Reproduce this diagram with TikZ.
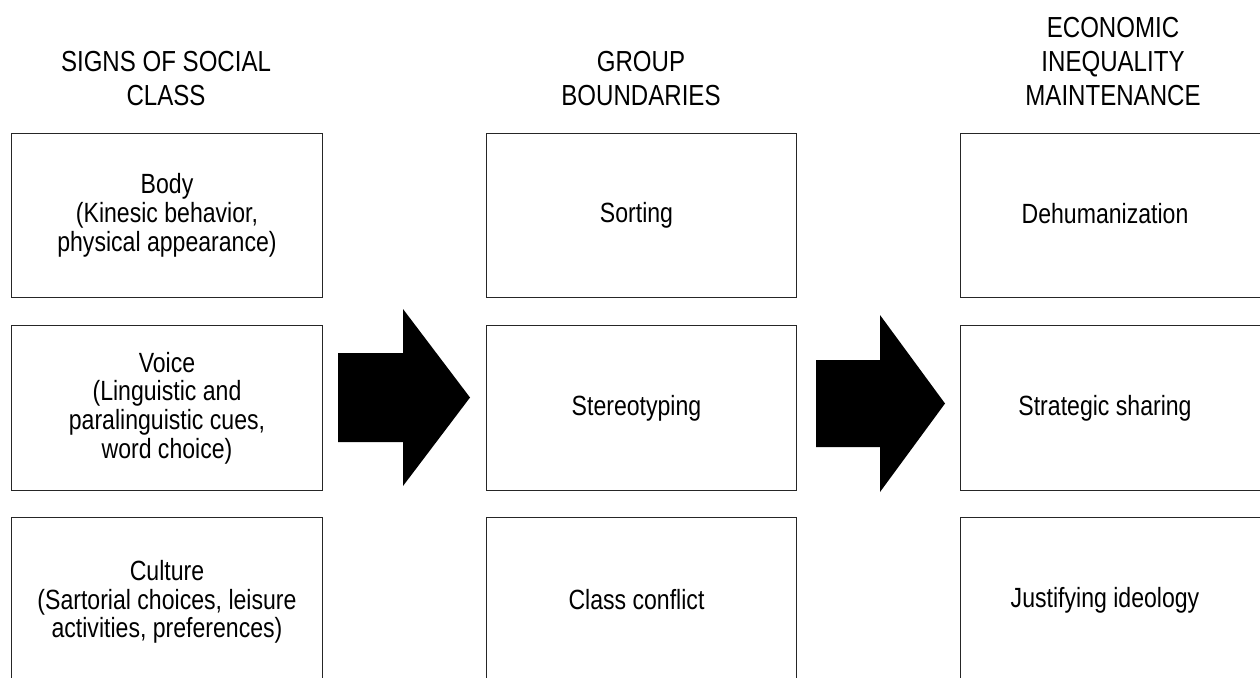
\documentclass[tikz,border=0pt]{standalone}
\usepackage{fontspec}
\setmainfont{Liberation Sans}[FakeStretch=0.83]
\begin{document}
\begin{tikzpicture}[x=1pt,y=-1pt,
  box/.style={draw=black!85,line width=1pt,minimum width=311pt,minimum height=165pt,inner sep=0pt,anchor=north west},
  head/.style={font=\fontsize{29}{34}\selectfont,align=center,inner sep=0pt},
  lbl/.style={font=\fontsize{27.8}{28.8}\selectfont,align=center,inner sep=0pt},
  bigarrow/.style={fill=black,draw=none}]
\useasboundingbox (0,0) rectangle (1260,677);
\clip (0,0) rectangle (1260,677);
% headers
\node[head] (h1) at (166,79) {SIGNS OF SOCIAL\\CLASS};
\node[head] (h2) at (641,79) {GROUP\\BOUNDARIES};
\node[head] (h3) at (1113,62) {ECONOMIC\\INEQUALITY\\MAINTENANCE};
% left column
\node[box,minimum height=164pt] (L1) at (11,133) {};
\node[box] (L2) at (11,325) {};
\node[box] (L3) at (11,517) {};
% middle column
\node[box,minimum width=310pt,minimum height=164pt] (M1) at (486,133) {};
\node[box,minimum width=310pt] (M2) at (486,325) {};
\node[box,minimum width=310pt] (M3) at (486,517) {};
% right column
\node[box,minimum height=164pt] (R1) at (960,133) {};
\node[box] (R2) at (960,325) {};
\node[box] (R3) at (960,517) {};
% labels
\node[lbl] (tL1) at (L1.center) {Body\\(Kinesic behavior,\\physical appearance)};
\node[lbl] (tL2) at (L2.center) {Voice\\(Linguistic and\\paralinguistic cues,\\word choice)};
\node[lbl] (tL3) at ([yshift=-2pt]L3.center) {Culture\\(Sartorial choices, leisure\\activities, preferences)};
\node[lbl] (tM1) at ([xshift=-5pt]M1.center) {Sorting};
\node[lbl] (tM2) at ([xshift=-5pt]M2.center) {Stereotyping};
\node[lbl] (tM3) at ([xshift=-5pt]M3.center) {Class conflict};
\node[lbl] (tR1) at ([xshift=-11pt,yshift=2pt]R1.center) {Dehumanization};
\node[lbl] (tR2) at ([xshift=-11pt]R2.center) {Strategic sharing};
\node[lbl] (tR3) at ([xshift=-11pt]R3.center) {Justifying ideology};
% big arrows
\fill[bigarrow] (338,353) -- (403,353) -- (403,309) -- (470,397.5) -- (403,486) -- (403,442) -- (338,442) -- cycle;
\fill[bigarrow] (816,360) -- (880,360) -- (880,315) -- (945,403.5) -- (880,492) -- (880,447) -- (816,447) -- cycle;
\end{tikzpicture}
\end{document}
